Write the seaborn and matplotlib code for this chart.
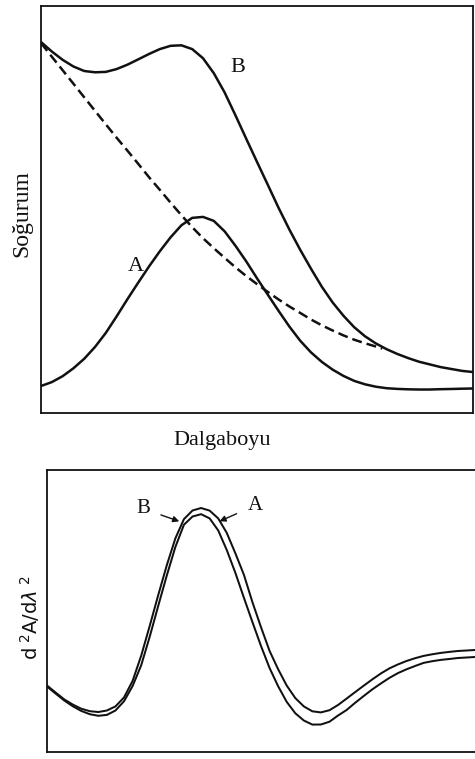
import matplotlib
matplotlib.use("Agg")
import matplotlib.pyplot as plt
import seaborn as sns
import pandas as pd

# ---- upper panel: absorbance vs wavelength (arbitrary units, 0-100) ----
wl_top = [0, 2.5, 5, 7.5, 10, 12.5, 15, 17.5, 20, 22.5, 25, 27.5, 30, 32.5, 35, 37.5,
          40, 42.5, 45, 47.5, 50, 52.5, 55, 57.5, 60, 62.5, 65, 67.5, 70, 72.5, 75,
          77.5, 80, 82.5, 85, 87.5, 90, 92.5, 95, 97.5, 100]

abs_b = [91.15, 88.82, 86.78, 85.14, 84.03, 83.71, 83.81, 84.50, 85.58, 86.88, 88.21,
         89.41, 90.22, 90.34, 89.41, 87.17, 83.49, 78.77, 73.17, 67.40, 61.70, 56.07,
         50.39, 45.06, 40.10, 35.45, 31.03, 27.17, 23.91, 21.08, 18.85, 17.10, 15.68,
         14.50, 13.49, 12.60, 11.94, 11.28, 10.81, 10.34, 10.07]

abs_a = [6.63, 7.59, 9.04, 10.98, 13.32, 16.22, 19.68, 23.73, 27.96, 32.02, 36.00,
         39.73, 43.17, 46.12, 47.94, 48.18, 47.20, 44.64, 41.11, 37.27, 33.10, 29.07,
         25.09, 21.23, 17.76, 14.89, 12.56, 10.66, 9.12, 7.89, 7.05, 6.46, 6.09, 5.92,
         5.82, 5.77, 5.77, 5.85, 5.90, 5.97, 6.02]

# light-scattering background (dashed), runs until it meets curve B
wl_bg = [0, 2.5, 5, 7.5, 10, 12.5, 15, 17.5, 20, 22.5, 25, 27.5, 30, 32.5, 35, 37.5,
         40, 42.5, 45, 47.5, 50, 52.5, 55, 57.5, 60, 62.5, 65, 67.5, 70, 72.5, 75,
         77.5, 79]
abs_bg = [90.91, 87.54, 84.23, 80.91, 77.57, 74.25, 70.93, 67.64, 64.47, 61.23, 57.94,
          54.84, 51.67, 48.60, 45.65, 42.95, 40.49, 38.13, 35.80, 33.66, 31.67, 29.75,
          27.89, 26.17, 24.59, 22.97, 21.55, 20.27, 19.07, 18.01, 17.13, 16.34, 15.82]

# ---- lower panel: second derivative d2A/dlambda2 ----
wl_bot = [0, 2, 4, 6, 8, 10, 12, 14, 16, 18, 20, 22, 24, 26, 28, 30, 32, 34, 36, 38,
          40, 42, 44, 46, 48, 50, 52, 54, 56, 58, 60, 62, 64, 66, 68, 70, 72, 74, 76,
          78, 80, 82, 84, 86, 88, 90, 92, 94, 96, 98, 100]

d2_b = [23.58, 21.10, 18.69, 16.84, 15.35, 14.47, 14.18, 14.72, 16.17, 19.36, 25.21,
        34.11, 44.72, 55.71, 66.28, 75.78, 82.59, 85.64, 86.52, 85.60, 82.84, 77.70,
        70.50, 62.87, 53.12, 44.26, 35.85, 29.36, 23.58, 19.15, 16.17, 14.43, 14.04,
        14.82, 16.67, 18.94, 21.24, 23.51, 25.74, 27.84, 29.65, 31.06, 32.27, 33.26,
        34.08, 34.65, 35.14, 35.50, 35.82, 35.99, 36.17]

d2_a = [23.23, 20.74, 18.30, 16.24, 14.57, 13.40, 12.84, 13.16, 14.72, 18.01, 23.40,
        30.71, 40.89, 51.88, 62.66, 72.73, 80.60, 83.50, 84.33, 82.84, 78.58, 71.63,
        63.58, 54.72, 46.06, 37.59, 29.79, 23.33, 17.80, 13.76, 11.17, 9.72, 9.75,
        10.74, 12.94, 14.89, 17.45, 19.86, 22.20, 24.29, 26.28, 27.98, 29.33, 30.50,
        31.60, 32.20, 32.66, 32.98, 33.33, 33.51, 33.69]

top = pd.DataFrame({"wl": wl_top, "B": abs_b, "A": abs_a})
bg = pd.DataFrame({"wl": wl_bg, "bg": abs_bg})
bot = pd.DataFrame({"wl": wl_bot, "B": d2_b, "A": d2_a})

sns.set_style("white")
plt.rcParams["font.family"] = ["Liberation Serif", "DejaVu Serif"]
plt.rcParams["mathtext.fontset"] = "dejavusans"

fig = plt.figure(figsize=(4.75, 7.59), dpi=100)
W, H = 475, 759


def px_axes(left, top_px, right, bottom_px):
    return fig.add_axes([left / W, 1 - bottom_px / H,
                         (right - left) / W, (bottom_px - top_px) / H])


ax1 = px_axes(41, 6, 473, 413)
ax2 = px_axes(47, 470, 475, 752)

ink = "#111111"
kw = dict(color=ink, estimator=None, sort=False)
sns.lineplot(data=top, x="wl", y="B", ax=ax1, lw=1.8, **kw)
sns.lineplot(data=top, x="wl", y="A", ax=ax1, lw=1.8, **kw)
sns.lineplot(data=bg, x="wl", y="bg", ax=ax1, lw=1.8, linestyle=(0, (4, 2)), **kw)

sns.lineplot(data=bot, x="wl", y="B", ax=ax2, lw=1.45, **kw)
sns.lineplot(data=bot, x="wl", y="A", ax=ax2, lw=1.45, **kw)

for ax in (ax1, ax2):
    ax.set_xlim(0, 100)
    ax.set_ylim(0, 100)
    ax.set_xticks([])
    ax.set_yticks([])
    ax.set_xlabel("")
    ax.set_ylabel("")
    for s in ax.spines.values():
        s.set_color(ink)
        s.set_linewidth(1.3)
ax2.spines["right"].set_visible(False)

# curve labels
ax1.text(45.5, 85.0, "B", fontsize=16, color=ink, ha="center", va="center")
ax1.text(22.0, 36.0, "A", fontsize=16, color=ink, ha="center", va="center")

arrow = dict(arrowstyle="-|>", color=ink, lw=1.0, mutation_scale=9, shrinkA=6, shrinkB=0)
ax2.annotate("B", xy=(30.9, 81.8), xytext=(22.4, 86.3), fontsize=15, color=ink,
             ha="center", va="center", arrowprops=arrow)
ax2.annotate("A", xy=(40.3, 81.8), xytext=(48.6, 87.4), fontsize=15, color=ink,
             ha="center", va="center", arrowprops=arrow)

# axis titles
fig.text(222 / W, 1 - 440 / H, "Dalgaboyu", fontsize=16, color=ink, ha="center", va="center")
fig.text(22 / W, 1 - 214 / H, "Soğurum", fontsize=17, color=ink, ha="center", va="center",
         rotation=90)
fig.text(30 / W, 1 - 617 / H, r"d$^{\ 2}$A/d$\lambda^{\ 2}$", fontsize=14, color=ink,
         ha="center", va="center", rotation=90, family="DejaVu Sans")

fig.savefig("out.png", dpi=100, facecolor="white")
